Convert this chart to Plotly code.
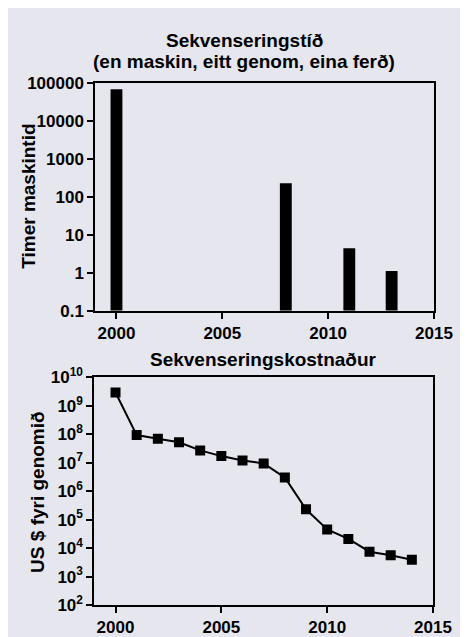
import plotly.graph_objects as go

# Top panel: sequencing time (hours of machine time)
time_years = [2000, 2008, 2011, 2013]
time_hours = [67000, 227, 4.4, 1.1]
time_tickvals = [0.1, 1, 10, 100, 1000, 10000, 100000]
time_ticktext = ["0.1", "1", "10", "100", "1000", "10000", "100000"]

# Bottom panel: sequencing cost (US$ per genome)
cost_years = list(range(2000, 2015))
cost_usd = [2.9e9, 9.3e7, 6.9e7, 5.2e7, 2.7e7, 1.7e7, 1.2e7, 9.4e6,
            3.0e6, 2.3e5, 4.5e4, 2.1e4, 7.5e3, 5.6e3, 3.9e3]
cost_tickvals = [10**k for k in range(2, 11)]
cost_ticktext = ["10<sup>%d</sup>" % k for k in range(2, 11)]

x_ticks = [2000, 2005, 2010, 2015]

BG = "#E6E6EE"
FONT = "Liberation Sans, Arial, sans-serif"
TICK_SIZE = 17
TITLE_SIZE = 19

fig = go.Figure()
fig.add_trace(go.Bar(x=time_years, y=time_hours, width=0.56,
                     marker=dict(color="black", line=dict(width=0)),
                     xaxis="x", yaxis="y"))
fig.add_trace(go.Scatter(x=cost_years, y=cost_usd, mode="lines+markers",
                         line=dict(color="black", width=2),
                         marker=dict(symbol="square", size=10, color="black"),
                         xaxis="x2", yaxis="y2"))

axis_common = dict(showline=True, linecolor="black", linewidth=2, mirror=True,
                   ticks="outside", ticklen=6, tickwidth=2, tickcolor="black",
                   showgrid=False, zeroline=False,
                   tickfont=dict(family=FONT, size=TICK_SIZE, color="black", weight="bold"))

def ann(text, x, y, angle=0, size=TITLE_SIZE):
    return dict(text=text, x=x/468, y=1-y/637, xref="paper", yref="paper",
                xanchor="center", yanchor="middle", showarrow=False, textangle=angle,
                font=dict(size=size, family=FONT, color="black", weight="bold"))

fig.update_layout(
    width=468, height=637, margin=dict(l=0, r=0, t=0, b=0),
    paper_bgcolor=BG, plot_bgcolor=BG, showlegend=False,
    font=dict(family=FONT, color="black", weight="bold"),
    xaxis=dict(domain=[91/468, 444/468], range=[1999, 2015], tickvals=x_ticks,
               anchor="y", **axis_common),
    yaxis=dict(domain=[1-301/637, 1-65/637], type="log", range=[-1, 5],
               tickvals=time_tickvals, ticktext=time_ticktext, anchor="x",
               **axis_common),
    xaxis2=dict(domain=[90/468, 443/468], range=[1999, 2015], tickvals=x_ticks,
                anchor="y2", **axis_common),
    yaxis2=dict(domain=[1-606/637, 1-370/637], type="log", range=[2, 10],
                tickvals=cost_tickvals, ticktext=cost_ticktext, anchor="x2",
                **axis_common),
    annotations=[
        ann("Sekvenseringstíð", 246, 21),
        ann("(en maskin, eitt genom, eina ferð)", 246, 43),
        ann("Sekvenseringskostnaður", 266, 352),
        ann("Timer maskintid", 22, 183, angle=-90),
        ann("US $ fyri genomið", 30, 489, angle=-90),
    ],
)

fig.write_html("out.html")
